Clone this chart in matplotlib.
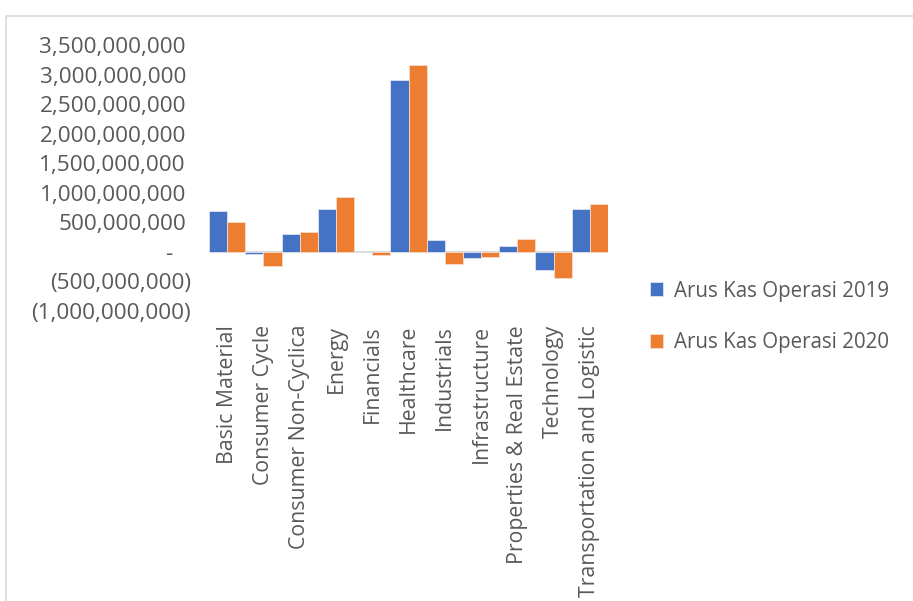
import matplotlib.pyplot as plt
import numpy as np
from matplotlib.patches import Rectangle
from matplotlib.transforms import ScaledTranslation

# operating cash flow per sector
sectors = ['Basic Material', 'Consumer Cycle', 'Consumer Non-Cyclica', 'Energy',
           'Financials', 'Healthcare', 'Industrials', 'Infrastructure',
           'Properties & Real Estate', 'Technology', 'Transportation and Logistic']
kas_2019 = [693e6, -30e6, 310e6, 732e6, 0, 2900e6, 197e6, -96e6, 101e6, -298e6, 721e6]
kas_2020 = [507e6, -242e6, 333e6, 924e6, -60e6, 3165e6, -197e6, -84e6, 214e6, -439e6, 811e6]
yticks = np.arange(-1e9, 3.5e9 + 1, 5e8)

plt.rcParams['font.family'] = ['Open Sans', 'DejaVu Sans']
txt = '#595959'

fig = plt.figure(figsize=(9.13, 6.01), dpi=100)
ax = fig.add_axes([209/913, 1 - 311/601, (608 - 209)/913, (311 - 45)/601])

x = np.arange(len(sectors))
w = 0.5
ax.bar(x - w/2, kas_2019, w, color='#4472C4', edgecolor='#dde4f2', linewidth=0.6,
       label='Arus Kas Operasi 2019', zorder=3)
ax.bar(x + w/2, kas_2020, w, color='#ED7D31', edgecolor='#f8dccb', linewidth=0.6,
       label='Arus Kas Operasi 2020', zorder=3)
ax.axhline(0, color='#D9D9D9', linewidth=1.5, zorder=2)

ax.set_xlim(-0.5, len(sectors) - 0.5)
ax.set_ylim(-1e9, 3.5e9)
for s in ax.spines.values():
    s.set_visible(False)

def fmt(v):
    if v > 0:
        return '{:,.0f}'.format(v)
    if v < 0:
        return '({:,.0f})'.format(-v)
    return '-'

ax.set_yticks(yticks)
ax.set_yticklabels([fmt(v) for v in yticks])
ax.tick_params(axis='y', length=0, pad=13, labelsize=16.2, labelcolor=txt)
for v, lab in zip(yticks, ax.get_yticklabels()):
    if v > 0:
        dx = -5
    elif v == 0:
        dx = -19
    else:
        dx = 0
    lab.set_transform(lab.get_transform() + ScaledTranslation(dx/100, 0, fig.dpi_scale_trans))

ax.set_xticks(x)
ax.set_xticklabels(sectors, rotation=90)
ax.tick_params(axis='x', length=0, pad=10, labelsize=15.3, labelcolor=txt)

leg = fig.legend(loc='upper left', bbox_to_anchor=(631/913, 1 - 262/601), frameon=False,
                 fontsize=14.8, labelcolor=txt, handlelength=0.68, handleheight=0.68,
                 handletextpad=0.5, labelspacing=1.5)

# chart area frame
fig.patches.append(Rectangle((6/913, -0.1), 1.1, 1.1 - 16/601, transform=fig.transFigure,
                             fill=False, edgecolor='#D9D9D9', linewidth=1.2))

fig.savefig('out.png', dpi=100)
